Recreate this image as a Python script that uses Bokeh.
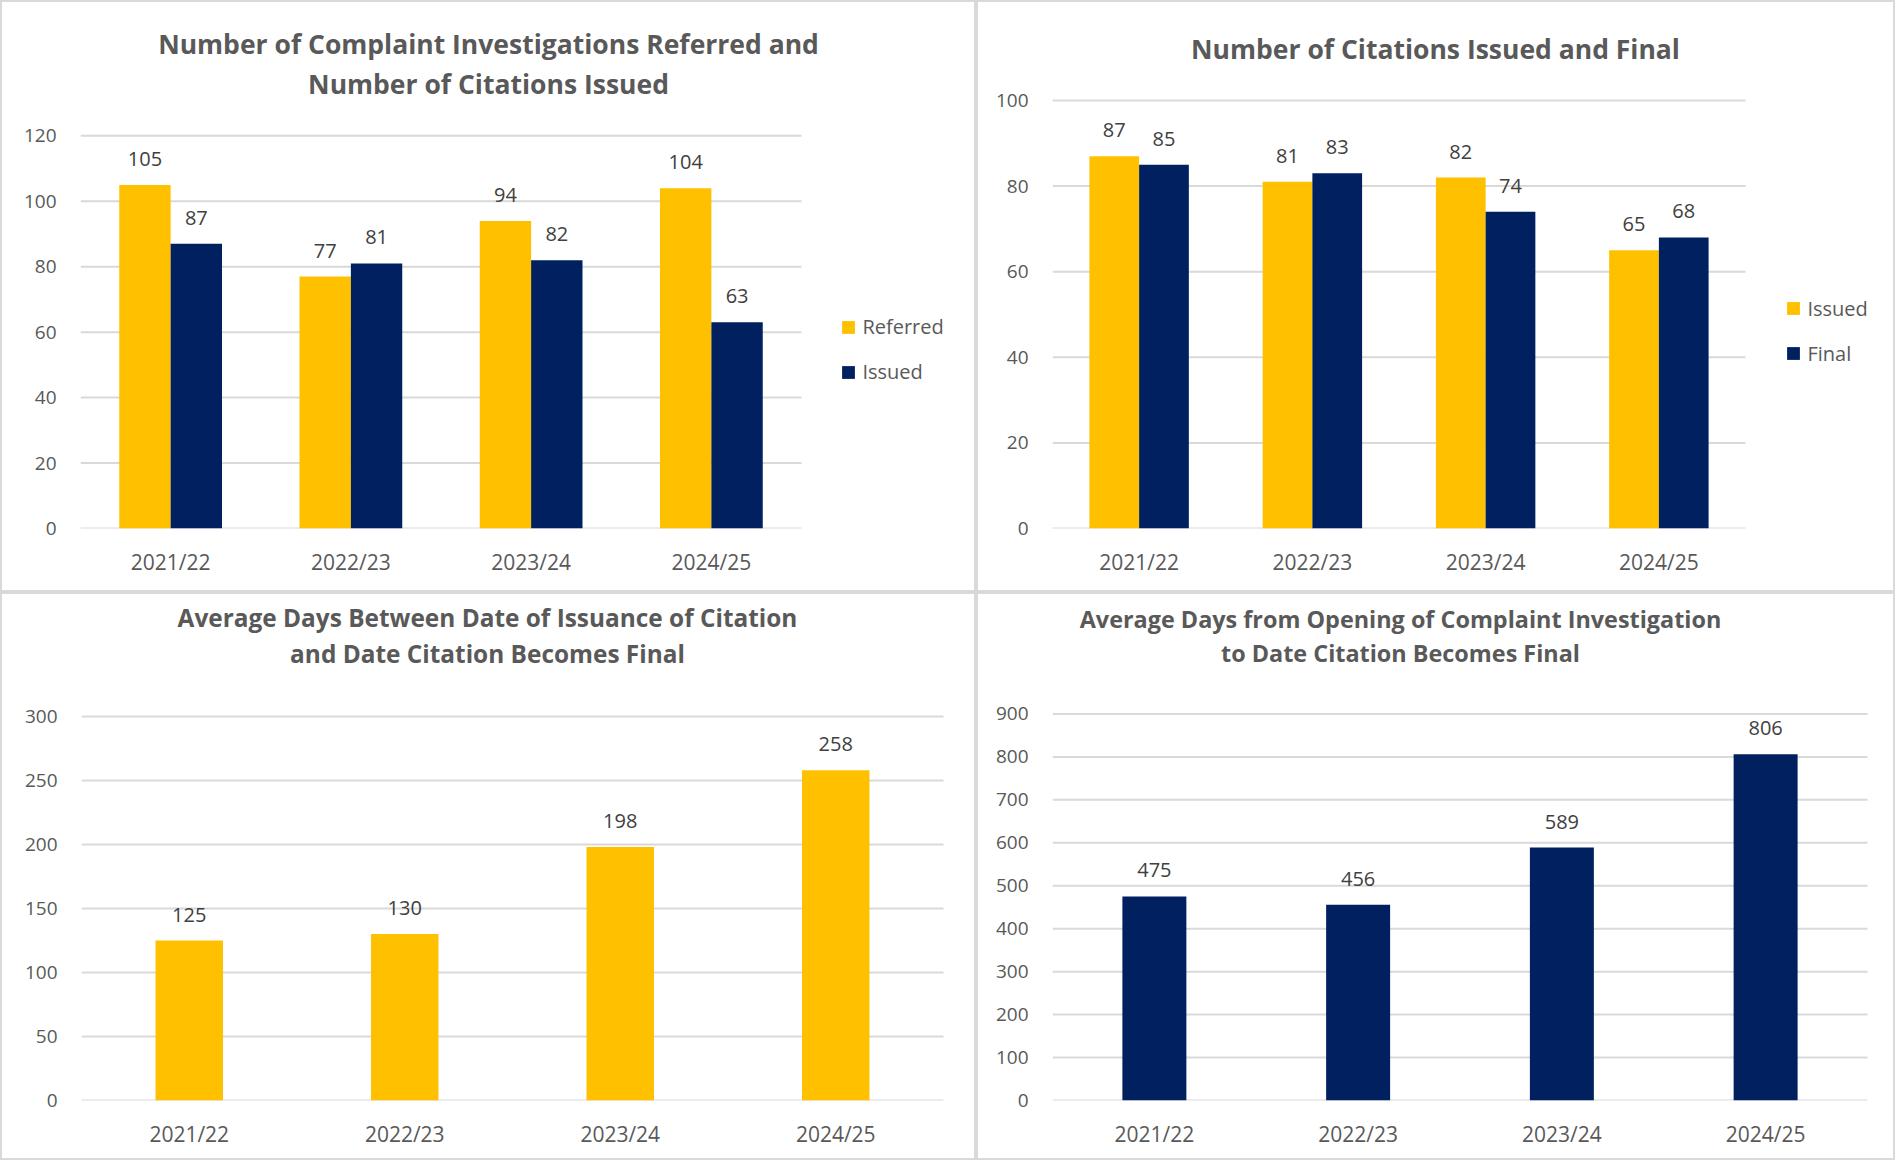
from bokeh.plotting import figure
from bokeh.layouts import column, row
from bokeh.models import (ColumnDataSource, FixedTicker, Label, Legend, LegendItem, Range1d)
from bokeh.core.properties import value
from bokeh.embed import file_html
from bokeh.resources import INLINE

# ---------------- data ----------------
years = ["2021/22", "2022/23", "2023/24", "2024/25"]

referred = [105, 77, 94, 104]
issued_c1 = [87, 81, 82, 63]

issued_c2 = [87, 81, 82, 65]
final_c2 = [85, 83, 74, 68]

avg_days_issue_to_final = [125, 130, 198, 258]
avg_days_open_to_final = [475, 456, 589, 806]

title1 = ["Number of Complaint Investigations Referred and", "Number of Citations Issued"]
title2 = ["Number of Citations Issued and Final"]
title3 = ["Average Days Between Date of Issuance of Citation", "and Date Citation Becomes Final"]
title4 = ["Average Days from Opening of Complaint Investigation", "to Date Citation Becomes Final"]

ticks1 = [0, 20, 40, 60, 80, 100, 120]
ticks2 = [0, 20, 40, 60, 80, 100]
ticks3 = [0, 50, 100, 150, 200, 250, 300]
ticks4 = [0, 100, 200, 300, 400, 500, 600, 700, 800, 900]

# ---------------- style ----------------
GOLD = "#FFC000"
NAVY = "#002060"
GRID = "#D9D9D9"
TXT = "#595959"
LBL = "#404040"
FONT = "Open Sans"
BW = 2  # panel border width


class Panel:
    """Figure whose frame starts at the plot-area left/bottom and runs to the
    canvas top/right, so that titles and legends are drawn inside it."""

    def __init__(self, W, H, px, py, gx0, gx1, gy0, gytop, ticks):
        cw, ch = W, H
        cx, cy = px + BW, py + BW
        self.L = round(gx0 - cx)
        self.B = round(cy + ch - gy0)
        self.gx0 = cx + self.L
        self.gy0 = cy + ch - self.B
        self.pxu = (gx1 - gx0) / len(years)
        self.pyu = (gy0 - gytop) / ticks[-1]
        xend = (cw - self.L) / self.pxu - 0.5
        yend = (ch - self.B) / self.pyu
        p = figure(x_range=Range1d(-0.5, xend), y_range=Range1d(0, yend),
                   width=W, height=H, min_border_left=self.L, min_border_top=0,
                   min_border_right=0, min_border_bottom=self.B,
                   output_backend="svg", toolbar_location=None, title=None,
                   background_fill_color="white", border_fill_color="white",
                   outline_line_color=None,
                   styles={"border": "%dpx solid #D9D9D9" % BW, "box-sizing": "border-box"})
        p.xgrid.grid_line_color = None
        p.ygrid.grid_line_color = None
        p.yaxis.ticker = FixedTicker(ticks=ticks)
        p.xaxis.ticker = FixedTicker(ticks=list(range(len(years))))
        p.xaxis.major_label_overrides = {i: y for i, y in enumerate(years)}
        for ax in (p.xaxis, p.yaxis):
            ax.axis_line_color = None
            ax.major_tick_line_color = None
            ax.minor_tick_line_color = None
            ax.major_tick_out = 0
            ax.major_tick_in = 0
            ax.major_label_text_font = FONT
            ax.major_label_text_color = TXT
        p.yaxis.major_label_text_font_size = "19px"
        p.yaxis.major_label_standoff = 24
        p.xaxis.major_label_text_font_size = "21px"
        p.xaxis.major_label_standoff = 19
        # horizontal gridlines over the plot area only
        p.segment(x0=-0.5, x1=len(years) - 0.5, y0=ticks, y1=ticks,
                  line_color=GRID, line_width=2)
        self.p = p

    def data(self, pagex, pagey):
        return ((pagex - self.gx0) / self.pxu - 0.5, (self.gy0 - pagey) / self.pyu)

    def title(self, lines, pagex, pageys, size):
        for line, py in zip(lines, pageys):
            x, y = self.data(pagex, py)
            self.p.add_layout(Label(x=x, y=y, text=line, text_align="center",
                                    text_baseline="middle", text_font=FONT,
                                    text_font_size=size, text_font_style="bold",
                                    text_color=TXT))

    def bars(self, series, colors, width, names=None):
        n = len(series)
        rs = []
        for k, (vals, col) in enumerate(zip(series, colors)):
            off = (k - (n - 1) / 2) * width
            src = ColumnDataSource(dict(x=[i + off for i in range(len(years))], y=vals,
                                        t=[str(v) for v in vals]))
            r = self.p.vbar(x="x", top="y", width=width, source=src,
                            fill_color=col, line_color=None)
            self.p.text(x="x", y="y", text="t", source=src, text_align="center",
                        text_baseline="middle", y_offset=-26, text_font=value(FONT),
                        text_font_size="20px", text_color=LBL)
            rs.append(r)
        if names:
            return [LegendItem(label=nm, renderers=[r]) for nm, r in zip(names, rs)]

    def legend(self, items, glyph_left_page, bottom_page):
        loc = (glyph_left_page - self.gx0, self.gy0 - bottom_page)
        leg = Legend(items=items, location=loc, orientation="vertical",
                     glyph_width=16, glyph_height=16, label_standoff=6, spacing=18,
                     padding=0, margin=0, border_line_alpha=0, background_fill_alpha=0,
                     label_text_font=FONT, label_text_font_size="20px",
                     label_text_color=TXT, label_height=16)
        self.p.add_layout(leg)


# ---- panel 1 ----
a = Panel(976, 592, 0, 0, 80, 801, 529.6, 135.4, ticks1)
it = a.bars([referred, issued_c1], [GOLD, NAVY], 0.285, ["Referred", "Issued"])
a.legend(it, 840.4, 387)
a.title(title1, 488, [44, 84], "26.5px")

# ---- panel 2 ----
b = Panel(919, 592, 976, 0, 1052, 1745, 528.4, 100.4, ticks2)
it = b.bars([issued_c2, final_c2], [GOLD, NAVY], 0.287, ["Issued", "Final"])
b.legend(it, 1785.4, 366.5)
b.title(title2, 1435, [48.5], "26.5px")

# ---- panel 3 ----
c = Panel(976, 568, 0, 592, 81, 943, 1100, 716, ticks3)
c.bars([avg_days_issue_to_final], [GOLD], 0.313)
c.title(title3, 487, [617, 653], "24.4px")

# ---- panel 4 ----
d = Panel(919, 568, 976, 592, 1052, 1867, 1101.6, 713.5, ticks4)
d.bars([avg_days_open_to_final], [NAVY], 0.314)
d.title(title4, 1400, [619, 653], "23.4px")

layout = column(row(a.p, b.p), row(c.p, d.p))
open("out.html", "w").write(file_html(layout, INLINE))
